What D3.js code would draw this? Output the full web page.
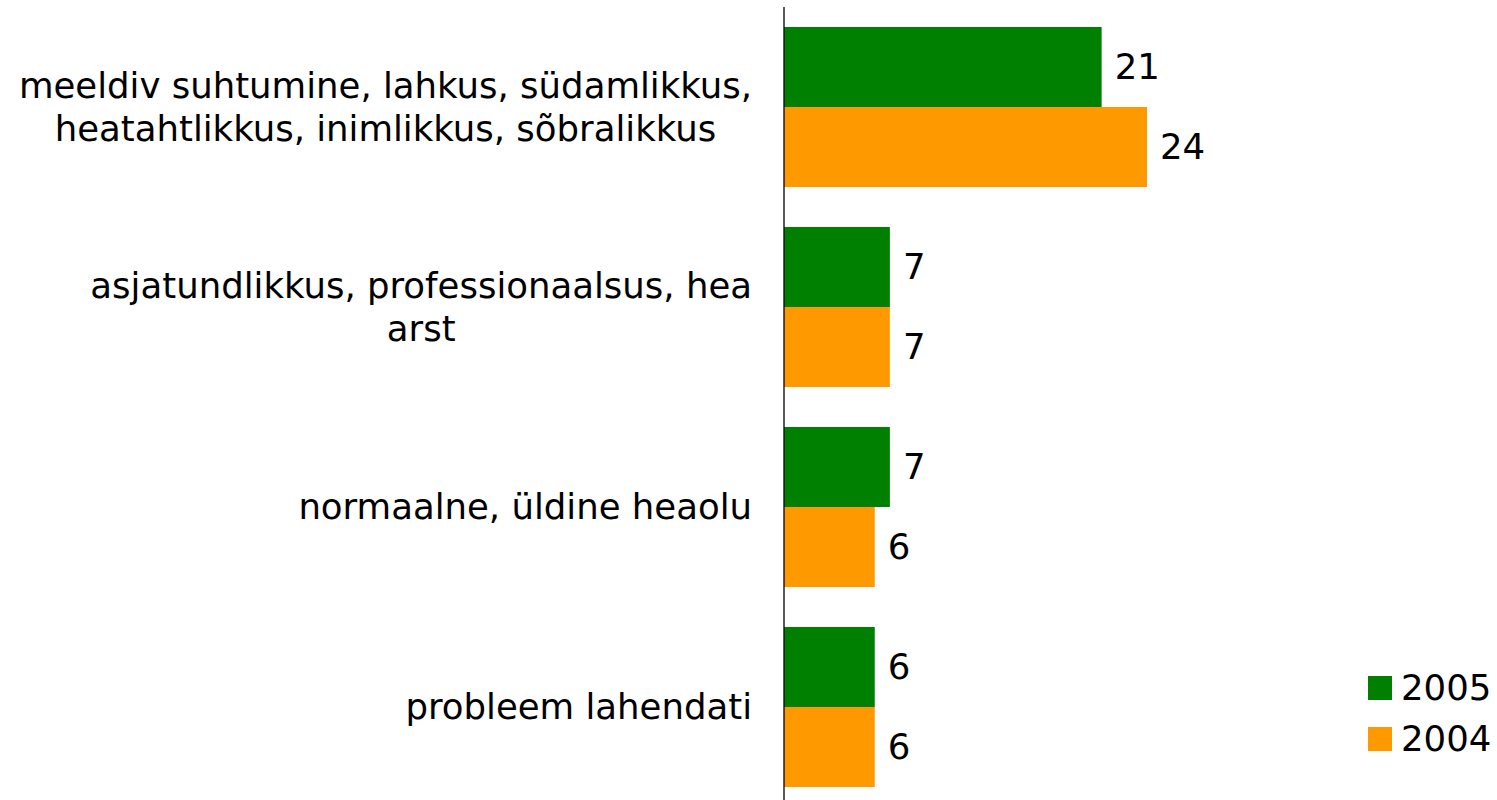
<!DOCTYPE html>
<html>
<head>
<meta charset="utf-8">
<script src="https://cdn.jsdelivr.net/npm/d3@7"></script>
<style>
  body { margin: 0; background: #fff; }
  text { font-family: "DejaVu Sans", Verdana, sans-serif; fill: #000; }
</style>
</head>
<body>
<script>
// categories and values
var categories = [
  ["meeldiv suhtumine, lahkus, südamlikkus,", "heatahtlikkus, inimlikkus, sõbralikkus"],
  ["asjatundlikkus, professionaalsus, hea", "arst"],
  ["normaalne, üldine heaolu"],
  ["probleem lahendati"]
];
var series = ["2005", "2004"];
var values2005 = [21, 7, 7, 6];
var values2004 = [24, 7, 6, 6];
var colors = ["#008000", "#ff9900"];

var width = 1497, height = 800;
var axisX = 784;
var fontSize = "35.5px";

var svg = d3.select("body").append("svg")
  .attr("width", width)
  .attr("height", height);

var x = d3.scaleLinear().domain([0, 24]).range([axisX, 1147]);

var y = d3.scaleBand()
  .domain(d3.range(categories.length))
  .range([7, 807])
  .paddingInner(0.2)
  .paddingOuter(0.1);

var y1 = d3.scaleBand().domain(series).range([0, y.bandwidth()]);

var rows = categories.map(function(c, i) {
  return {i: i, label: c, vals: [values2005[i], values2004[i]]};
});

var groups = svg.selectAll("g.cat").data(rows)
  .enter().append("g")
  .attr("class", "cat")
  .attr("transform", function(d) { return "translate(0," + y(d.i) + ")"; });

groups.selectAll("rect").data(function(d) { return d.vals; })
  .enter().append("rect")
  .attr("x", x(0))
  .attr("y", function(d, j) { return y1(series[j]); })
  .attr("width", function(d) { return x(d) - x(0); })
  .attr("height", y1.bandwidth())
  .attr("fill", function(d, j) { return colors[j]; });

groups.selectAll("text.val").data(function(d) { return d.vals; })
  .enter().append("text")
  .attr("class", "val")
  .attr("x", function(d) { return x(d) + 13; })
  .attr("y", function(d, j) { return y1(series[j]) + y1.bandwidth() / 2; })
  .attr("dy", "0.35em")
  .style("font-size", fontSize)
  .text(function(d) { return d; });

// category labels, block right aligned at the axis, lines centred
groups.each(function(d) {
  var g = d3.select(this);
  var lh = 43;
  var n = d.label.length;
  var t = g.append("text")
    .attr("class", "lab")
    .attr("text-anchor", "middle")
    .style("font-size", fontSize);
  d.label.forEach(function(line, k) {
    t.append("tspan")
      .attr("x", 385)
      .attr("y", y.bandwidth() / 2 + (k - (n - 1) / 2) * lh)
      .attr("dy", "0.35em")
      .text(line);
  });
  var w = t.node().getBBox().width;
  t.selectAll("tspan").attr("x", 752 - w / 2);
});

svg.append("line")
  .attr("x1", axisX).attr("x2", axisX)
  .attr("y1", 7).attr("y2", height)
  .attr("stroke", "#000")
  .attr("stroke-width", 1.3);

// legend
var legend = svg.selectAll("g.leg").data(series)
  .enter().append("g")
  .attr("class", "leg")
  .attr("transform", function(d, i) { return "translate(1368," + (676 + i * 51) + ")"; });

legend.append("rect")
  .attr("width", 24).attr("height", 24)
  .attr("fill", function(d, i) { return colors[i]; });

legend.append("text")
  .attr("x", 33).attr("y", 12)
  .attr("dy", "0.35em")
  .style("font-size", fontSize)
  .text(function(d) { return d; });
</script>
</body>
</html>
